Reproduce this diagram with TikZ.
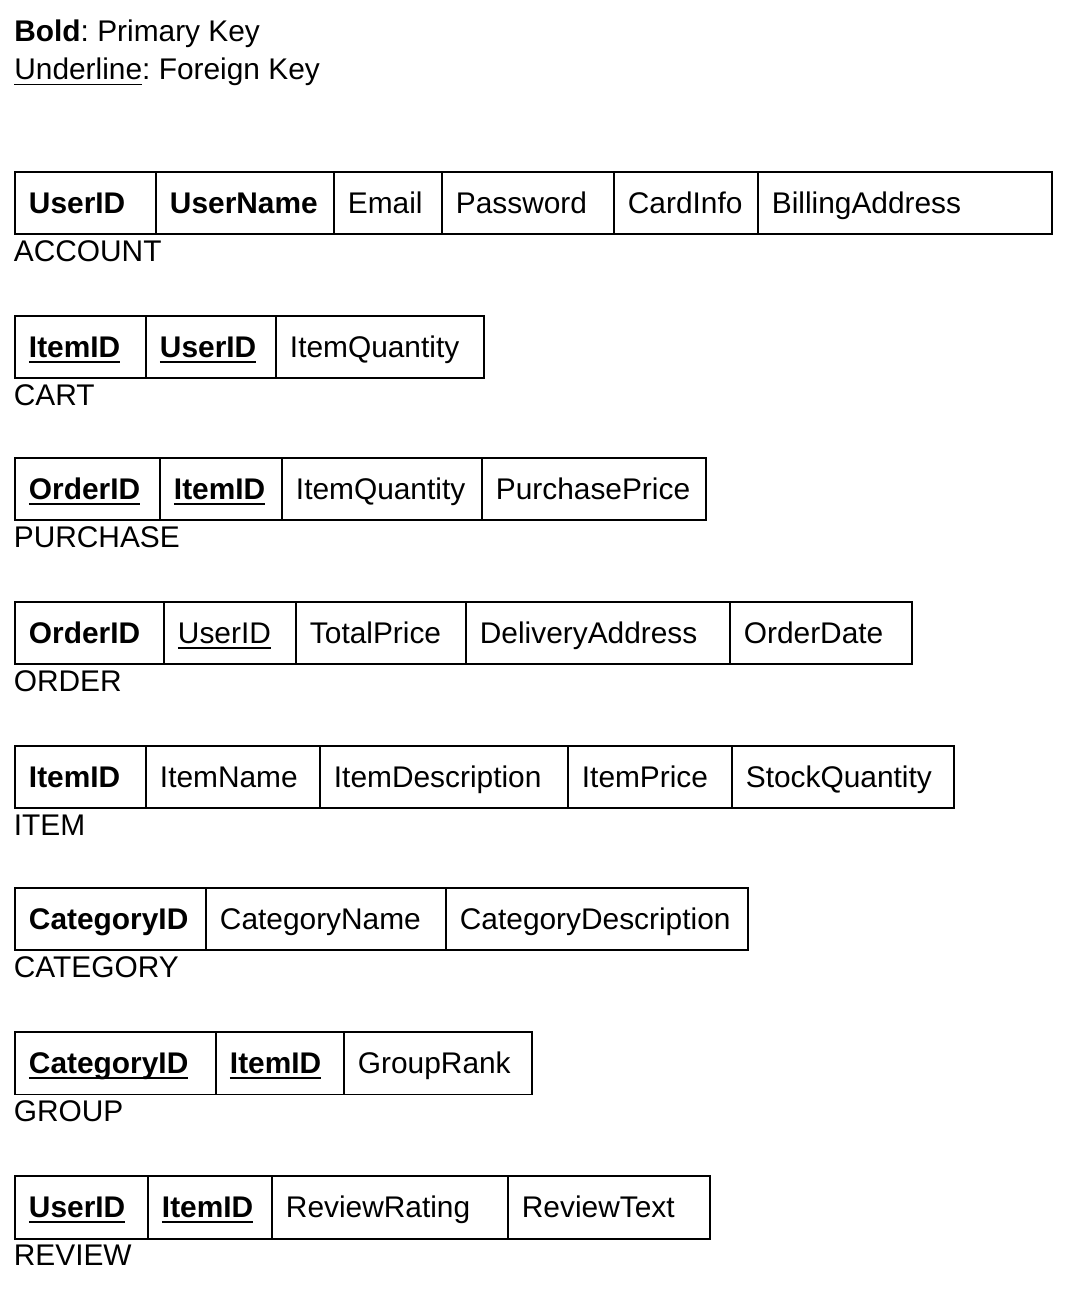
\documentclass[tikz,border=0pt]{standalone}
\usepackage{fontspec}
\setmainfont{Liberation Sans}
\usetikzlibrary{positioning}
\frenchspacing
\newsavebox{\undlbox}
\newcommand{\undl}[1]{\sbox{\undlbox}{#1}\rlap{\rule[-3.1pt]{\wd\undlbox}{1.1pt}}\usebox{\undlbox}}

\tikzset{
  cell/.style={draw, line width=0.04cm, outer sep=0pt, inner xsep=0.28cm, inner ysep=0pt,
    minimum height=1.25cm, text width=#1, align=left, text height=12.2pt, text depth=0pt},
  tname/.style={inner sep=0pt, text height=12.2pt, text depth=0pt},
  key/.style={anchor=base west, inner sep=0pt}
}

\begin{document}
\begin{tikzpicture}[x=0.02cm, y=-0.02cm, font=\fontsize{17}{20}\selectfont]
            \useasboundingbox (0,0) rectangle (1064,1290);

            % legend
            \node[key] (bold) at (14,42) {\textbf{Bold}: Primary Key};
            \node[key] (uline) at (14,80) {\undl{Underline}: Foreign Key};

            % ACCOUNT
            \node[cell=2.26cm, anchor=north west] (acc1) at (15,172) {\textbf{UserID}};
            \node[cell=3.00cm, right=0pt of acc1] (acc2) {\textbf{UserName}};
            \node[cell=1.60cm, right=0pt of acc2] (acc3) {Email};
            \node[cell=2.88cm, right=0pt of acc3] (acc4) {Password};
            \node[cell=2.32cm, right=0pt of acc4] (acc5) {CardInfo};
            \node[cell=5.32cm, right=0pt of acc5] (acc6) {BillingAddress};
            \node[tname, below right=0.1cm and -0.03cm of acc1.south west] (accname) {ACCOUNT};

            % CART
            \node[cell=2.06cm, anchor=north west] (cart1) at (15,316) {\undl{\textbf{ItemID}}};
            \node[cell=2.04cm, right=0pt of cart1] (cart2) {\undl{\textbf{UserID}}};
            \node[cell=3.60cm, right=0pt of cart2] (cart3) {ItemQuantity};
            \node[tname, below right=0.1cm and -0.03cm of cart1.south west] (cartname) {CART};

            % PURCHASE
            \node[cell=2.34cm, anchor=north west] (pur1) at (15,458) {\undl{\textbf{OrderID}}};
            \node[cell=1.88cm, right=0pt of pur1] (pur2) {\undl{\textbf{ItemID}}};
            \node[cell=3.44cm, right=0pt of pur2] (pur3) {ItemQuantity};
            \node[cell=3.92cm, right=0pt of pur3] (pur4) {PurchasePrice};
            \node[tname, below right=0.1cm and -0.03cm of pur1.south west] (purname) {PURCHASE};

            % ORDER
            \node[cell=2.42cm, anchor=north west] (ord1) at (15,602) {\textbf{OrderID}};
            \node[cell=2.08cm, right=0pt of ord1] (ord2) {\undl{UserID}};
            \node[cell=2.84cm, right=0pt of ord2] (ord3) {TotalPrice};
            \node[cell=4.72cm, right=0pt of ord3] (ord4) {DeliveryAddress};
            \node[cell=3.08cm, right=0pt of ord4] (ord5) {OrderDate};
            \node[tname, below right=0.1cm and -0.03cm of ord1.south west] (ordname) {ORDER};

            % ITEM
            \node[cell=2.06cm, anchor=north west] (item1) at (15,746) {\textbf{ItemID}};
            \node[cell=2.92cm, right=0pt of item1] (item2) {ItemName};
            \node[cell=4.40cm, right=0pt of item2] (item3) {ItemDescription};
            \node[cell=2.72cm, right=0pt of item3] (item4) {ItemPrice};
            \node[cell=3.88cm, right=0pt of item4] (item5) {StockQuantity};
            \node[tname, below right=0.1cm and -0.03cm of item1.south west] (itemname) {ITEM};

            % CATEGORY
            \node[cell=3.26cm, anchor=north west] (cat1) at (15,888) {\textbf{CategoryID}};
            \node[cell=4.24cm, right=0pt of cat1] (cat2) {CategoryName};
            \node[cell=5.48cm, right=0pt of cat2] (cat3) {CategoryDescription};
            \node[tname, below right=0.1cm and -0.03cm of cat1.south west] (catname) {CATEGORY};

            % GROUP
            \node[cell=3.46cm, anchor=north west] (grp1) at (15,1032) {\undl{\textbf{CategoryID}}};
            \node[cell=2.00cm, right=0pt of grp1] (grp2) {\undl{\textbf{ItemID}}};
            \node[cell=3.20cm, right=0pt of grp2] (grp3) {GroupRank};
            \node[tname, below right=0.1cm and -0.03cm of grp1.south west] (grpname) {GROUP};

            % REVIEW
            \node[cell=2.10cm, anchor=north west] (rev1) at (15,1176) {\undl{\textbf{UserID}}};
            \node[cell=1.92cm, right=0pt of rev1] (rev2) {\undl{\textbf{ItemID}}};
            \node[cell=4.16cm, right=0pt of rev2] (rev3) {ReviewRating};
            \node[cell=3.48cm, right=0pt of rev3] (rev4) {ReviewText};
            \node[tname, below right=0.1cm and -0.03cm of rev1.south west] (revname) {REVIEW};
\end{tikzpicture}
\end{document}
